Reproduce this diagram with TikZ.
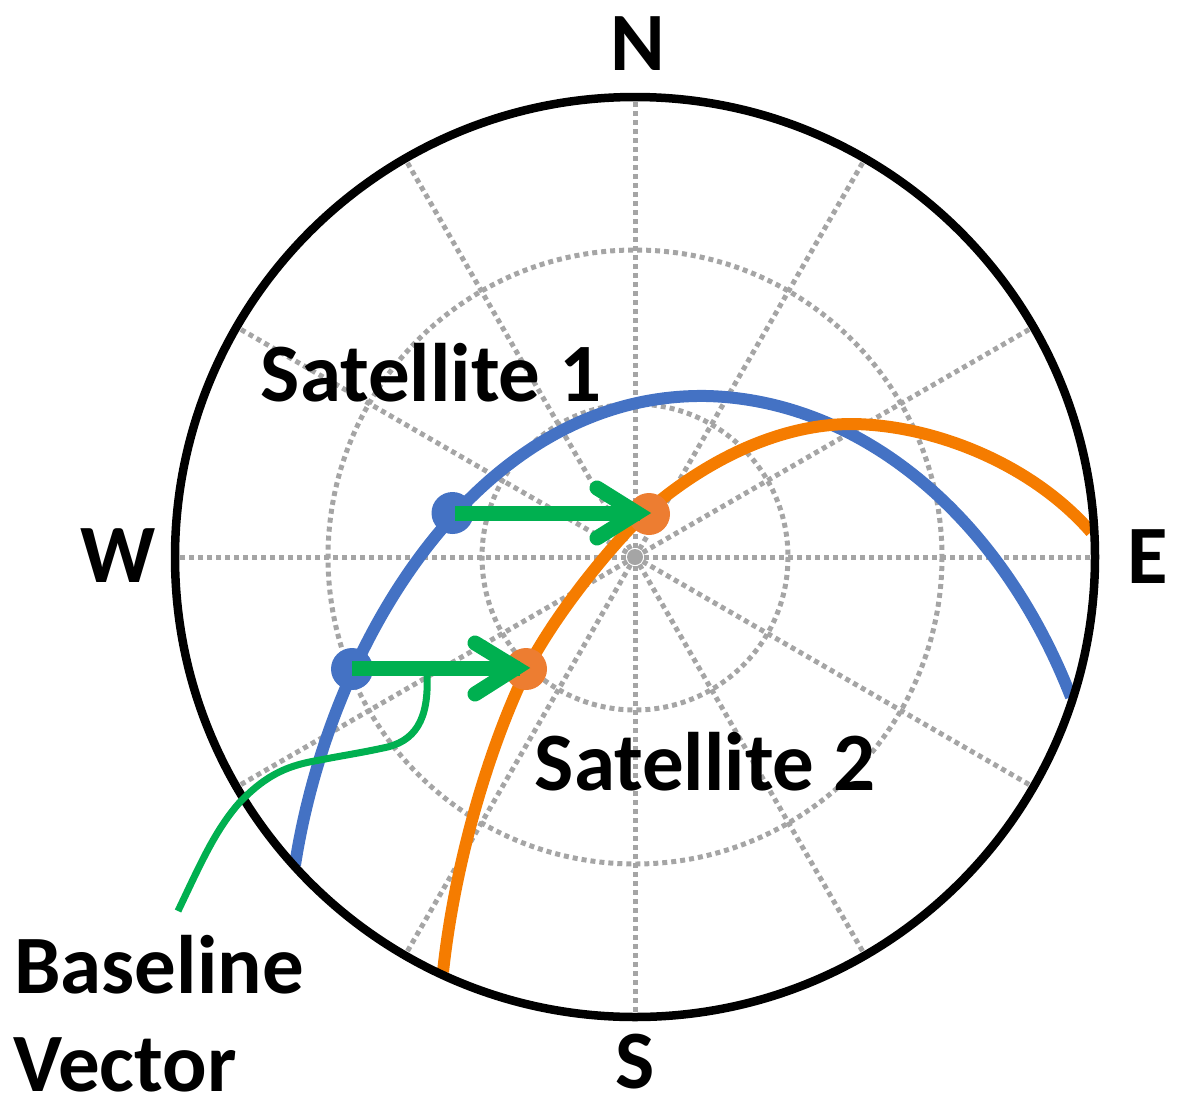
\documentclass[tikz,border=0pt]{standalone}
\usepackage{fontspec}
\setmainfont{Carlito}
\begin{document}
\begin{tikzpicture}[x=1pt,y=-1pt,
  grid/.style={draw=gridgray,line width=5pt,dash pattern=on 5pt off 4pt},
  lab/.style={font=\bfseries\fontsize{83}{83}\selectfont,text=black,inner sep=0pt},
  track/.style={line width=12pt},
  dot/.style={circle,inner sep=0pt,minimum size=42pt},
  vec/.style={draw=vgreen,line width=15pt},
  barb/.style={draw=vgreen,line width=15pt,line cap=round,line join=miter,miter limit=10}]
\definecolor{gridgray}{HTML}{A5A5A5}
\definecolor{sblue}{HTML}{4472C4}
\definecolor{sorange}{HTML}{F57C00}
\definecolor{dorange}{HTML}{ED7D31}
\definecolor{vgreen}{HTML}{00B050}
\useasboundingbox (0,0) rectangle (1180,1106);
\coordinate (c) at (635,557);
\foreach \r in {153,307}{\draw[grid] (c) circle (\r);}
\fill[gridgray] (c) circle (8);
\foreach \a in {0,30,...,330}{\draw[grid] (c) -- ++(\a:460);}
\draw[track,sblue] (295,865) .. controls (330,640) and (480,392) .. (707,396) .. controls (860,400) and (1000,515) .. (1071,697);
\draw[track,sorange] (443,972) .. controls (455,860) and (490,745) .. (527,669) .. controls (548,628) and (590,570) .. (636,522) .. controls (665,493) and (750,425) .. (850,424) .. controls (930,424) and (1030,462) .. (1091,532);
\draw[line width=8.5pt] (c) circle (460);
\node[dot,fill=sblue] (b1) at (452.5,513) {};
\node[dot,fill=sblue] (b2) at (352,669) {};
\node[dot,fill=dorange] (o1) at (649,514) {};
\node[dot,fill=dorange] (o2) at (526,669) {};
\coordinate (v1s) at (455,513);
\coordinate (v1e) at (640,513);
\coordinate (v2s) at (352,668);
\coordinate (v2e) at (520,668);
\draw[vec] (v1s) -- (v1e);
\draw[vec] (v2s) -- (v2e);
\coordinate (a1u) at (597,488);
\coordinate (a1d) at (597,538);
\coordinate (a2u) at (475,643);
\coordinate (a2d) at (475,694);
\draw[barb] (a1u) -- (637,513) -- (a1d);
\draw[barb] (a2u) -- (516,668) -- (a2d);
\coordinate (t1) at (427,675);
\coordinate (t2) at (178,911);
\draw[draw=vgreen,line width=7pt] (t1) .. controls (429,720) and (415,742) .. (383,748) .. controls (360,753) and (340,756) .. (320,760) .. controls (290,765) and (268,773) .. (240,802) .. controls (215,830) and (200,865) .. (t2);
\node[lab] (n) at (638,44) {N};
\node[lab] (s) at (635,1062) {S};
\node[lab] (w) at (118,556) {W};
\node[lab] (e) at (1148,557) {E};
\node[lab] (s1) at (431,373) {Satellite 1};
\node[lab] (s2) at (705,762) {Satellite 2};
\node[lab] (bl) at (159,965) {Baseline};
\node[lab,anchor=west] (vc) at (13,1065) {Vector};
\end{tikzpicture}
\end{document}
